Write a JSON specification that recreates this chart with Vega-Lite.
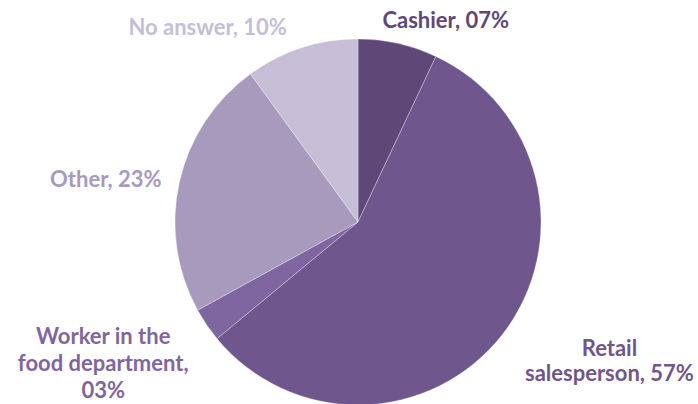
{
  "$schema": "https://vega.github.io/schema/vega-lite/v6.json",
  "width": 680,
  "height": 364,
  "autosize": "none",
  "padding": {"left": 18, "top": 40, "right": 0, "bottom": 0},
  "background": "white",
  "view": {"stroke": null},
  "data": {"values": [
    {"k": 1, "category": "Cashier", "value": 7, "label": "Cashier, 07%"},
    {"k": 2, "category": "Retail salesperson", "value": 57, "label": "Retail\nsalesperson, 57%"},
    {"k": 3, "category": "Worker in the food department", "value": 3, "label": "Worker in the\nfood department,\n03%"},
    {"k": 4, "category": "Other", "value": 23, "label": "Other, 23%"},
    {"k": 5, "category": "No answer", "value": 10, "label": "No answer, 10%"}
  ]},
  "encoding": {
    "theta": {"field": "value", "type": "quantitative", "stack": true},
    "order": {"field": "k", "type": "ordinal"}
  },
  "layer": [
    {
      "mark": {"type": "arc", "radius": 183, "stroke": "#ffffff", "strokeWidth": 0.6, "strokeOpacity": 0.5},
      "encoding": {
        "color": {"field": "category", "type": "nominal",
          "scale": {"domain": ["Cashier", "Retail salesperson", "Worker in the food department", "Other", "No answer"],
                    "range": ["#5e4878", "#6f578d", "#7f66a0", "#a79abd", "#c6bed6"]},
          "legend": null}
      }
    },
    {
      "mark": {"type": "text", "radius": 205, "dx": 43, "dy": -1, "font": "Lato", "fontWeight": "bold", "fontSize": 22, "lineBreak": "\n", "lineHeight": 26, "align": "center", "baseline": "middle", "color": "#5e4878"},
      "encoding": {"text": {"condition": {"test": "datum.k == 1", "field": "label", "type": "nominal"}, "value": ""}}
    },
    {
      "mark": {"type": "text", "radius": 260, "dx": 46, "dy": -32, "font": "Lato", "fontWeight": "bold", "fontSize": 22, "lineBreak": "\n", "lineHeight": 25, "align": "center", "baseline": "middle", "color": "#6f578d"},
      "encoding": {"text": {"condition": {"test": "datum.k == 2", "field": "label", "type": "nominal"}, "value": ""}}
    },
    {
      "mark": {"type": "text", "radius": 250, "dx": -48, "dy": -26, "font": "Lato", "fontWeight": "bold", "fontSize": 22, "lineBreak": "\n", "lineHeight": 27, "align": "center", "baseline": "middle", "color": "#7f66a0"},
      "encoding": {"text": {"condition": {"test": "datum.k == 3", "field": "label", "type": "nominal"}, "value": ""}}
    },
    {
      "mark": {"type": "text", "radius": 240, "dx": -18, "dy": 10, "font": "Lato", "fontWeight": "bold", "fontSize": 22, "lineBreak": "\n", "lineHeight": 26, "align": "center", "baseline": "middle", "color": "#a79abd"},
      "encoding": {"text": {"condition": {"test": "datum.k == 4", "field": "label", "type": "nominal"}, "value": ""}}
    },
    {
      "mark": {"type": "text", "radius": 205, "dx": -87, "dy": 1, "font": "Lato", "fontWeight": "bold", "fontSize": 22, "lineBreak": "\n", "lineHeight": 26, "align": "center", "baseline": "middle", "color": "#c6bed6"},
      "encoding": {"text": {"condition": {"test": "datum.k == 5", "field": "label", "type": "nominal"}, "value": ""}}
    }
  ]
}
